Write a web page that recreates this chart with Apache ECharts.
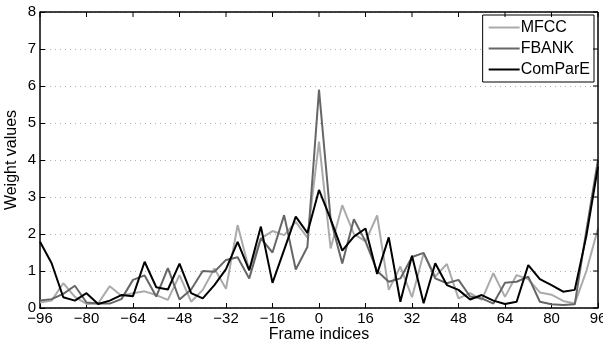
<!DOCTYPE html>
<html>
<head>
<meta charset="utf-8">
<script src="https://cdn.jsdelivr.net/npm/echarts@6/dist/echarts.min.js"></script>
<style>
  html, body { margin: 0; padding: 0; background: #fff; overflow: hidden; }
  #wrap { position: relative; width: 603px; height: 342px; }
  #chart { width: 603px; height: 342px; }
  #frame { position: absolute; left: 0; top: 0; pointer-events: none; }
</style>
</head>
<body>
<div id="wrap">
  <div id="chart"></div>
  <svg id="frame" width="603" height="342"></svg>
</div>
<script>
// frame indices, step 4
var frames = [];
for (var f = -96; f <= 96; f += 4) frames.push(f);

var xTicks = [-96, -80, -64, -48, -32, -16, 0, 16, 32, 48, 64, 80, 96];
var yTicks = [0, 1, 2, 3, 4, 5, 6, 7, 8];

var mfcc = [0.15, 0.2, 0.67, 0.3, 0.11, 0.12, 0.59, 0.33, 0.4,
  0.45, 0.35, 0.22, 0.89, 0.17, 0.49, 1.07, 0.52,
  2.24, 1.03, 1.88, 2.08, 1.97, 2.33, 1.9, 4.5,
  1.61, 2.78, 2.0, 1.8, 2.5, 0.49, 1.12, 0.29,
  1.48, 0.85, 1.19, 0.26, 0.4, 0.22, 0.94, 0.3,
  0.89, 0.78, 0.42, 0.36, 0.19, 0.12, 1.0, 2.15];

var fbank = [0.2, 0.24, 0.38, 0.6, 0.15, 0.12, 0.12, 0.24, 0.76,
  0.88, 0.31, 1.08, 0.23, 0.5, 1.0, 0.98, 1.3,
  1.37, 0.8, 1.88, 1.5, 2.51, 1.04, 1.65, 5.9,
  2.4, 1.2, 2.4, 1.8, 1.0, 0.71, 0.8, 1.38,
  1.49, 0.8, 0.67, 0.76, 0.31, 0.26, 0.12, 0.68,
  0.71, 0.85, 0.17, 0.1, 0.08, 0.1, 2.1, 4.0];

var compare = [1.79, 1.21, 0.29, 0.2, 0.4, 0.11, 0.2, 0.35, 0.32,
  1.25, 0.56, 0.5, 1.2, 0.4, 0.26, 0.62, 1.05,
  1.79, 1.02, 2.2, 0.68, 1.57, 2.47, 2.03, 3.19,
  2.4, 1.55, 1.93, 2.15, 0.92, 1.91, 0.17, 1.41,
  0.13, 1.21, 0.62, 0.49, 0.23, 0.35, 0.2, 0.11,
  0.17, 1.16, 0.78, 0.62, 0.44, 0.49, 1.95, 3.82];

function pairs(vals) {
  return frames.map(function (x, i) { return [x, vals[i]]; });
}

var font = 'Liberation Sans, Arial, Helvetica, sans-serif';
var chart = echarts.init(document.getElementById('chart'));

var axisLine = { show: true, onZero: false, lineStyle: { color: '#000', width: 1.5 } };
var dotted = { color: '#b0b0b0', type: [1, 4], width: 1 };
var xMin = xTicks[0], xMax = xTicks[xTicks.length - 1];
var yMin = yTicks[0], yMax = yTicks[yTicks.length - 1];
var gridBox = { left: 40, right: 5, top: 12, bottom: 34 };

chart.setOption({
  animation: false,
  grid: { left: gridBox.left, right: gridBox.right, top: gridBox.top, bottom: gridBox.bottom,
    outerBoundsMode: 'none' },
  legend: {
    orient: 'vertical',
    right: 9,
    top: 15,
    backgroundColor: '#fff',
    borderColor: '#000',
    borderWidth: 1,
    borderRadius: 0,
    padding: [4, 4, 4, 6],
    itemGap: 4,
    itemWidth: 31,
    itemHeight: 2,
    icon: 'rect',
    textStyle: { fontFamily: font, fontSize: 16, color: '#000', lineHeight: 17, padding: [0, 0, 0, -4] },
    data: ['MFCC', 'FBANK', 'ComParE']
  },
  xAxis: {
    type: 'value', min: xMin, max: xMax, interval: 16,
    name: 'Frame indices', nameLocation: 'middle', nameGap: 19, nameMoveOverlap: false,
    nameTextStyle: { fontFamily: font, fontSize: 16, color: '#000' },
    axisLine: axisLine,
    axisTick: { show: true, inside: true, length: 5, lineStyle: { color: '#000', width: 1 } },
    axisLabel: { fontFamily: font, fontSize: 15, color: '#000', margin: 3,
      formatter: function (v) { return v < 0 ? '\u2212' + (-v) : '' + v; } },
    splitLine: { show: false }
  },
  yAxis: {
    type: 'value', min: yMin, max: yMax, interval: 0.5,
    name: 'Weight values', nameLocation: 'middle', nameGap: 20, nameMoveOverlap: false,
    nameTextStyle: { fontFamily: font, fontSize: 16, color: '#000' },
    axisLine: axisLine,
    axisTick: { show: true, inside: true, length: 5, customValues: yTicks,
      lineStyle: { color: '#000', width: 1 } },
    axisLabel: { fontFamily: font, fontSize: 15, color: '#000', margin: 4, customValues: yTicks,
      formatter: function (v) { return v % 1 === 0 ? '' + v : ''; } },
    splitLine: { show: true, lineStyle: dotted }
  },
  series: [{
    name: 'MFCC', type: 'line', symbol: 'none',
    lineStyle: { color: '#aaaaaa', width: 2 }, itemStyle: { color: '#aaaaaa' },
    data: pairs(mfcc)
  }, {
    name: 'FBANK', type: 'line', symbol: 'none',
    lineStyle: { color: '#666666', width: 2 }, itemStyle: { color: '#666666' },
    data: pairs(fbank)
  }, {
    name: 'ComParE', type: 'line', symbol: 'none',
    lineStyle: { color: '#000000', width: 2 }, itemStyle: { color: '#000000' },
    data: pairs(compare)
  }]
});

// top/right frame with inward ticks, drawn as an svg overlay on the grid box
(function () {
  var svg = document.getElementById('frame');
  var W = 603, H = 342;
  var x0 = gridBox.left, x1 = W - gridBox.right;
  var y0 = gridBox.top, y1 = H - gridBox.bottom;
  var px = function (v) { return x0 + (v - xMin) / (xMax - xMin) * (x1 - x0); };
  var py = function (v) { return y1 - (v - yMin) / (yMax - yMin) * (y1 - y0); };
  var s = '<line x1="' + x0 + '" y1="' + y0 + '" x2="' + x1 + '" y2="' + y0 + '" stroke="#000" stroke-width="1.5"/>' +
    '<line x1="' + x1 + '" y1="' + y0 + '" x2="' + x1 + '" y2="' + y1 + '" stroke="#000" stroke-width="1.5"/>';
  xTicks.forEach(function (v) {
    var x = px(v);
    s += '<line x1="' + x + '" y1="' + y0 + '" x2="' + x + '" y2="' + (y0 + 5) + '" stroke="#000" stroke-width="1"/>';
  });
  yTicks.forEach(function (v) {
    var y = py(v);
    s += '<line x1="' + (x1 - 5) + '" y1="' + y + '" x2="' + x1 + '" y2="' + y + '" stroke="#000" stroke-width="1"/>';
  });
  svg.innerHTML = s;
})();
</script>
</body>
</html>
